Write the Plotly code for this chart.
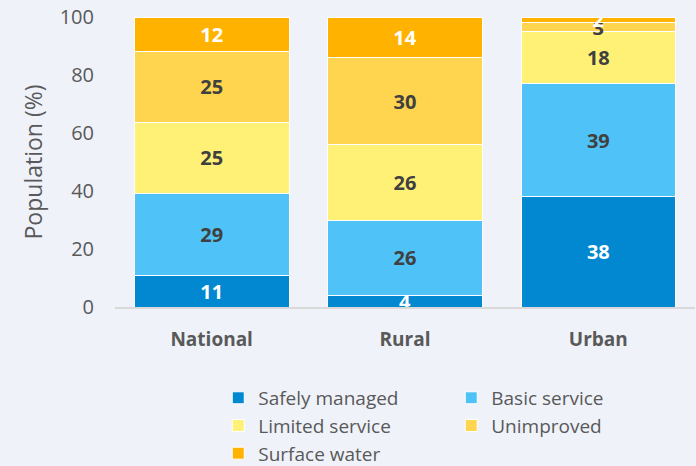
import plotly.graph_objects as go

categories = ["National", "Rural", "Urban"]
series_names = ["Safely managed", "Basic service", "Limited service", "Unimproved", "Surface water"]
safely_managed = [11, 4, 38]
basic_service = [29, 26, 39]
limited_service = [25, 26, 18]
unimproved = [25, 30, 3]
surface_water = [12, 14, 2]
y_ticks = [0, 20, 40, 60, 80, 100]

colors = ["#0288D1", "#4FC3F7", "#FFF176", "#FFD54F", "#FFB300"]
label_colors = ["#FFFFFF", "#404040", "#404040", "#404040", "#FFFFFF"]
BG = "#EFF2F9"
FONT = "'Open Sans', Lato, sans-serif"

fig = go.Figure()
for name, vals, c, lc in zip(series_names,
                             [safely_managed, basic_service, limited_service, unimproved, surface_water],
                             colors, label_colors):
    fig.add_trace(go.Bar(
        name=name, x=categories, y=vals, text=vals, texttemplate="%{text}",
        textposition="inside", insidetextanchor="middle", textangle=0,
        constraintext="none",
        textfont=dict(family=FONT, size=20, color=lc, weight="bold"),
        marker=dict(color=c, line=dict(color="#FFFFFF", width=1)),
        hoverinfo="skip",
    ))

fig.update_layout(
    barmode="stack", barnorm="percent", bargap=0.2,
    width=696, height=466,
    margin=dict(l=115, r=1, t=17, b=159, autoexpand=False),
    paper_bgcolor=BG, plot_bgcolor="rgba(0,0,0,0)",
    font=dict(family=FONT, color="#595959"),
    showlegend=True,
    legend=dict(orientation="h", x=0.178, xanchor="left", y=-0.248, yanchor="top",
                entrywidth=188, entrywidthmode="pixels", traceorder="normal",
                font=dict(family=FONT, size=19, color="#595959"),
                bgcolor="rgba(0,0,0,0)", itemclick=False),
)
fig.update_xaxes(showline=True, linecolor="#D9D9D9", linewidth=1.5, ticks="",
                 tickfont=dict(family=FONT, size=19, color="#595959", weight="bold"),
                 ticklabelstandoff=14, showgrid=False)
fig.update_yaxes(range=[0, 100], tickvals=y_ticks, showgrid=False, zeroline=False,
                 showline=False, ticks="",
                 tickfont=dict(family=FONT, size=20, color="#595959"),
                 ticklabelstandoff=20,
                 title=dict(text="Population (%)", font=dict(family=FONT, size=23, color="#595959"),
                            standoff=10))

fig.write_html(
    "out.html",
    config={"displayModeBar": False},
    post_script=f"document.body.style.margin='0';document.body.style.background='{BG}';",
)
